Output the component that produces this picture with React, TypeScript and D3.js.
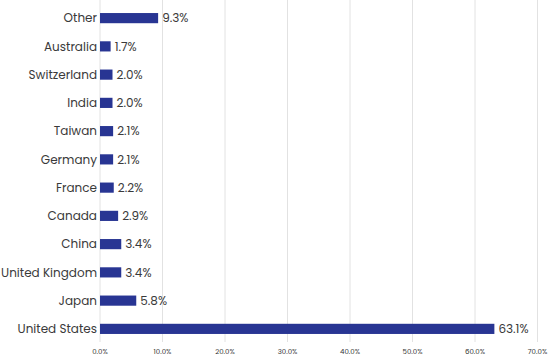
import * as d3 from "d3";

const countries = [
  "Other",
  "Australia",
  "Switzerland",
  "India",
  "Taiwan",
  "Germany",
  "France",
  "Canada",
  "China",
  "United Kingdom",
  "Japan",
  "United States",
];
const weights = [9.3, 1.7, 2.0, 2.0, 2.1, 2.1, 2.2, 2.9, 3.4, 3.4, 5.8, 63.1];
const ticks = [0, 10, 20, 30, 40, 50, 60, 70];

const W = 550;
const H = 363;
const FONT = "Poppins, 'Open Sans', Lato, sans-serif";

export default function App() {
  const x = d3.scaleLinear().domain([0, 70]).range([100, 537.5]);
  const y = d3
    .scaleBand()
    .domain(countries)
    .range([4, 343])
    .paddingInner(0.64)
    .paddingOuter(0.32);

  return (
    <svg
      width={W}
      height={H}
      style={{ position: "absolute", left: 0, top: 0, background: "#fff" }}
    >
      <g stroke="#e2e2e2" strokeWidth={1}>
        {ticks.map((t) => (
          <line key={t} x1={x(t)} x2={x(t)} y1={0} y2={342} />
        ))}
      </g>
      <g fontFamily={FONT} fontSize={7} fill="#333" textAnchor="middle">
        {ticks.map((t) => (
          <text key={t} x={x(t)} y={354}>
            {t.toFixed(1)}%
          </text>
        ))}
      </g>
      {countries.map((c, i) => {
        const yc = (y(c) ?? 0) + y.bandwidth() / 2;
        return (
          <g key={c}>
            <rect
              x={x(0)}
              y={y(c)}
              width={x(weights[i]) - x(0)}
              height={y.bandwidth()}
              fill="#283593"
            />
            <text
              x={97}
              y={yc}
              dy="0.35em"
              textAnchor="end"
              fontFamily={FONT}
              fontSize={12}
              fill="#3a3a3a"
            >
              {c}
            </text>
            <text
              x={x(weights[i]) + 4}
              y={yc}
              dy="0.35em"
              fontFamily={FONT}
              fontSize={12}
              fill="#3a3a3a"
            >
              {weights[i].toFixed(1)}%
            </text>
          </g>
        );
      })}
    </svg>
  );
}
